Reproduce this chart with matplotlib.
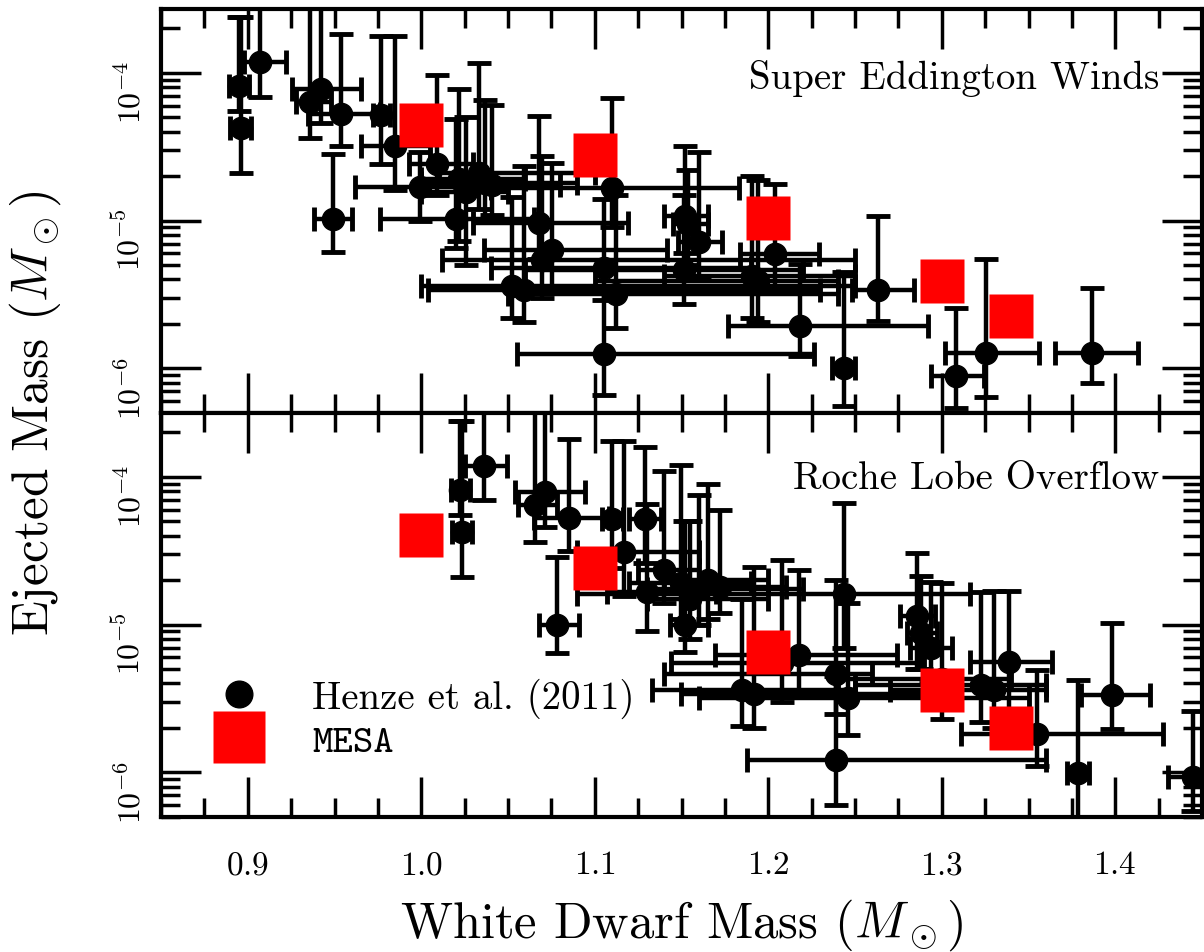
import matplotlib
matplotlib.use("Agg")
import matplotlib.pyplot as plt
from matplotlib.lines import Line2D
from matplotlib.ticker import MultipleLocator, LogLocator, NullFormatter
import numpy as np

plt.rcParams['font.family'] = ['cmr10', 'DejaVu Serif']
plt.rcParams['mathtext.fontset'] = 'cm'
plt.rcParams['axes.formatter.use_mathtext'] = True

# Henze et al. (2011) novae, WD mass from super Eddington winds model
sew_x = [0.907, 0.895, 0.896, 0.942, 0.936, 0.954, 0.977, 0.985, 0.949, 0.9995,
         1.009, 1.020, 1.022, 1.033, 1.026, 1.037, 1.041, 1.068, 1.0755, 1.0696,
         1.0523, 1.059, 1.1056, 1.112, 1.1056, 1.110, 1.152, 1.154, 1.160, 1.1513,
         1.2041, 1.1907, 1.194, 1.2185, 1.2435, 1.2633, 1.3255, 1.3082, 1.3867]
sew_x_lo = [0.898, 0.889, 0.890, 0.9255, 0.928, 0.935, 0.972, 0.965, 0.938, 0.962,
            0.993, 0.976, 1.000, 1.010, 1.000, 1.000, 1.020, 1.030, 1.036, 1.012,
            1.000, 1.004, 1.040, 1.050, 1.0552, 1.040, 1.140, 1.145, 1.148, 1.060,
            1.184, 1.140, 1.100, 1.177, 1.237, 1.248, 1.302, 1.294, 1.365]
sew_x_hi = [0.922, 0.901, 0.902, 0.965, 0.948, 0.976, 0.982, 1.005, 0.960, 1.040,
            1.030, 1.065, 1.060, 1.100, 1.050, 1.090, 1.080, 1.119, 1.1415, 1.250,
            1.250, 1.230, 1.190, 1.240, 1.2265, 1.183, 1.165, 1.165, 1.1734, 1.220,
            1.229, 1.250, 1.240, 1.2918, 1.250, 1.284, 1.356, 1.3245, 1.413]
sew_y = [1.19e-4, 8.1e-5, 4.2e-5, 7.8e-5, 6.3e-5, 5.3e-5, 5.15e-5, 3.2e-5, 1.03e-5, 1.7e-5,
         2.4e-5, 1.03e-5, 1.9e-5, 2.1e-5, 1.55e-5, 1.8e-5, 1.75e-5, 9.6e-6, 6.3e-6, 5.4e-6,
         3.6e-6, 3.4e-6, 4.8e-6, 3.2e-6, 1.25e-6, 1.66e-5, 1.08e-5, 9.5e-6, 7.15e-6, 4.6e-6,
         5.96e-6, 4.25e-6, 3.9e-6, 1.95e-6, 1.0e-6, 3.4e-6, 1.28e-6, 8.85e-7, 1.28e-6]
sew_y_lo = [6.9e-5, 5.5e-5, 2.1e-5, 4.6e-5, 3.6e-5, 3.2e-5, 2.4e-5, 1.62e-5, 6.1e-6, 1.0e-5,
            1.5e-5, 6.5e-6, 7.3e-6, 1.2e-5, 5e-6, 1.0e-5, 1.1e-5, 5.5e-6, 3.5e-6, 3.0e-6,
            2.2e-6, 2.07e-6, 2.9e-6, 1.87e-6, 6.6e-7, 9e-6, 6e-6, 5e-6, 4e-6, 2.74e-6,
            3.5e-6, 2.2e-6, 2.07e-6, 1.21e-6, 5.6e-7, 2.1e-6, 6.45e-7, 5.4e-7, 8e-7]
sew_y_hi = [4e-4, 2.4e-4, 2.4e-4, 4e-4, 4e-4, 1.84e-4, 1.76e-4, 1.76e-4, 2.84e-5, 2.9e-5,
            9.6e-5, 4.9e-5, 7.8e-5, 1.16e-4, 5e-5, 6.5e-5, 6.1e-5, 5.1e-5, 2.44e-5, 2.75e-5,
            1.44e-5, 2.35e-5, 1.41e-5, 1.5e-5, 3.5e-6, 6.8e-5, 3.2e-5, 2.2e-5, 2.9e-5, 1.5e-5,
            1.77e-5, 2.0e-5, 1.87e-5, 5.1e-6, 4.48e-6, 1.08e-5, 5.46e-6, 2.58e-6, 3.48e-6]

# same novae, WD mass from Roche lobe overflow model
rlof_x = [1.036, 1.0226, 1.0235, 1.0716, 1.0658, 1.085, 1.110, 1.1292, 1.1167, 1.0783,
          1.140, 1.130, 1.1523, 1.150, 1.160, 1.165, 1.172, 1.155, 1.2439, 1.2388,
          1.2388, 1.2459, 1.185, 1.192, 1.2176, 1.208, 1.2857, 1.288, 1.2939, 1.3388,
          1.398, 1.3551, 1.3786, 1.445, 1.3224, 1.330, 1.300]
rlof_x_lo = [1.025, 1.017, 1.018, 1.0543, 1.056, 1.065, 1.104, 1.120, 1.090, 1.0677,
             1.125, 1.107, 1.1436, 1.120, 1.130, 1.140, 1.150, 1.130, 1.090, 1.1878,
             1.140, 1.160, 1.133, 1.150, 1.1695, 1.144, 1.276, 1.280, 1.2816, 1.3163,
             1.380, 1.3112, 1.372, 1.4306, 1.250, 1.270, 1.240]
rlof_x_hi = [1.0495, 1.028, 1.029, 1.0946, 1.078, 1.108, 1.116, 1.138, 1.160, 1.0908,
             1.160, 1.170, 1.165, 1.190, 1.220, 1.200, 1.210, 1.200, 1.316, 1.360,
             1.260, 1.350, 1.250, 1.300, 1.274, 1.290, 1.296, 1.297, 1.306, 1.3633,
             1.420, 1.4276, 1.385, 1.460, 1.360, 1.360, 1.340]
rlof_y = [1.19e-4, 8.2e-5, 4.2e-5, 7.85e-5, 6.4e-5, 5.3e-5, 5.2e-5, 5.2e-5, 3.1e-5, 1.0e-5,
          2.35e-5, 1.65e-5, 9.9e-6, 1.9e-5, 1.75e-5, 2.0e-5, 1.8e-5, 1.5e-5, 1.6e-5, 1.22e-6,
          4.6e-6, 3.2e-6, 3.6e-6, 3.4e-6, 6.2e-6, 5.5e-6, 1.14e-5, 8.8e-6, 6.9e-6, 5.6e-6,
          3.32e-6, 1.81e-6, 9.9e-7, 9.3e-7, 3.9e-6, 3.6e-6, 4.3e-6]
rlof_y_lo = [7e-5, 5.5e-5, 2.1e-5, 4.55e-5, 3.6e-5, 3.16e-5, 2.4e-5, 2.6e-5, 1.56e-5, 6.4e-6,
             1.4e-5, 9e-6, 6.5e-6, 1.1e-5, 1.0e-5, 1.1e-5, 1.2e-5, 8e-6, 7e-6, 6e-7,
             2.5e-6, 1.8e-6, 2.07e-6, 2.0e-6, 3.5e-6, 3e-6, 5e-6, 5e-6, 4e-6, 2.5e-6,
             1.96e-6, 1.1e-6, 5e-7, 5.5e-7, 2.2e-6, 2e-6, 2.3e-6]
rlof_y_hi = [4e-4, 2.4e-4, 2.4e-4, 4e-4, 4e-4, 1.8e-4, 1.75e-4, 1.6e-4, 1.75e-4, 2.85e-5,
             1.1e-4, 6.5e-5, 5e-5, 1.2e-4, 7.5e-5, 9e-5, 6e-5, 5e-5, 6.6e-5, 4.5e-6,
             2.0e-5, 1.4e-5, 1.5e-5, 2.47e-5, 2.34e-5, 2.74e-5, 3.05e-5, 2.14e-5, 1.93e-5, 1.69e-5,
             1.03e-5, 4.9e-6, 4.2e-6, 2.6e-6, 1.67e-5, 1.69e-5, 1.9e-5]

# MESA models
mesa_x = [1.0, 1.1, 1.2, 1.3, 1.34]
mesa_sew = [4.4e-5, 2.8e-5, 1.05e-5, 3.9e-6, 2.25e-6]
mesa_rlof = [4.05e-5, 2.4e-5, 6.5e-6, 3.6e-6, 2.0e-6]

W, H = 1204, 953
fig = plt.figure(figsize=(W / 100, H / 100), dpi=100)
left, right = 161 / W, 1202 / W
ax1 = fig.add_axes([left, 1 - 414 / H, right - left, 404 / H])
ax2 = fig.add_axes([left, 1 - 818 / H, right - left, 404 / H], sharex=ax1)


def draw(ax, x, xlo, xhi, y, ylo, yhi, my, label, label_y):
    x, y = np.array(x), np.array(y)
    xerr = [x - np.array(xlo), np.array(xhi) - x]
    yerr = [y - np.array(ylo), np.array(yhi) - y]
    ax.errorbar(x, y, xerr=xerr, yerr=yerr, fmt='o', color='k', ms=16,
                elinewidth=3.2, capsize=8.5, capthick=3.5, zorder=2)
    ax.plot(mesa_x, my, 's', color='red', ms=31, mec='none', zorder=3)
    ax.set_yscale('log')
    ax.set_ylim(5e-7, 2.7e-4)
    ax.set_xlim(0.85, 1.45)
    ax.xaxis.set_major_locator(MultipleLocator(0.1))
    ax.xaxis.set_minor_locator(MultipleLocator(0.025))
    ax.yaxis.set_major_locator(LogLocator(base=10, numticks=10))
    ax.yaxis.set_minor_locator(LogLocator(base=10, subs=np.arange(2, 10), numticks=10))
    ax.yaxis.set_minor_formatter(NullFormatter())
    ax.tick_params(which='both', direction='in', top=True, right=True, width=2.5)
    ax.tick_params(which='major', length=29)
    ax.tick_params(which='minor', length=14)
    ax.tick_params(axis='y', labelsize=23, labelrotation=90, pad=11)
    ax.tick_params(axis='x', labelsize=24, pad=24)
    for sp in ax.spines.values():
        sp.set_linewidth(3)
    ax.text(0.959, label_y, label, transform=ax.transAxes, ha='right', va='center',
            fontsize=28)


draw(ax1, sew_x, sew_x_lo, sew_x_hi, sew_y, sew_y_lo, sew_y_hi, mesa_sew,
     'Super Eddington Winds', 0.83)
draw(ax2, rlof_x, rlof_x_lo, rlof_x_hi, rlof_y, rlof_y_lo, rlof_y_hi, mesa_rlof,
     'Roche Lobe Overflow', 0.838)
ax1.tick_params(axis='x', labelbottom=False)

handles = [Line2D([], [], marker='o', color='k', ls='none', ms=16),
           Line2D([], [], marker='s', color='red', mec='none', ls='none', ms=31)]
leg = ax2.legend(handles, ['Henze et al. (2011)', 'MESA'], loc='lower left',
                 bbox_to_anchor=(0.0035, 0.055), frameon=False, fontsize=28,
                 markerscale=1.2, handletextpad=0.9, labelspacing=0.15)
leg.get_texts()[1].set_family('cmtt10')

fig.text((161 + 1202) / 2 / W, 1 - 925 / H, r'White Dwarf Mass ($M_\odot$)',
         ha='center', va='center', fontsize=36.5)
fig.text(35 / W, 1 - 413 / H, r'Ejected Mass ($M_\odot$)', rotation=90,
         ha='center', va='center', fontsize=37)

fig.savefig('out.png', dpi=100)
